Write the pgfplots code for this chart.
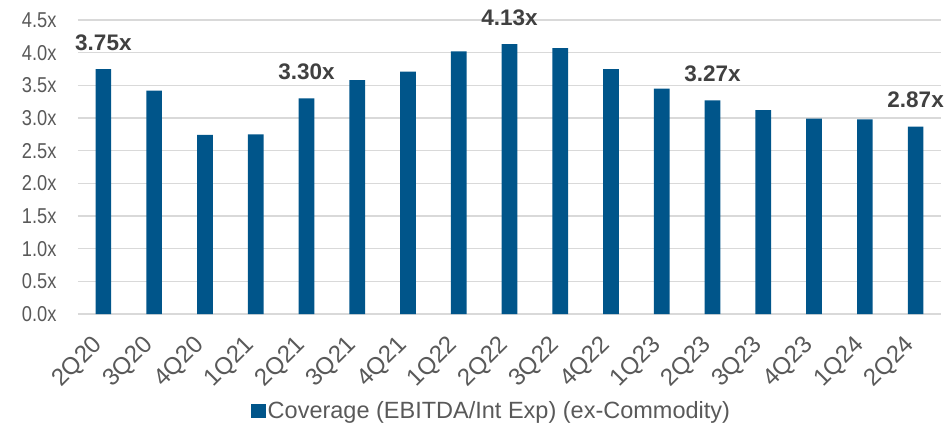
\documentclass[border=0pt]{standalone}
\usepackage{pgfplots}
\pgfplotsset{compat=1.18}
\usepackage{fontspec}
\setmainfont{Liberation Sans}
\newfontfamily\narrowfont{Liberation Sans}[FakeStretch=0.85]
\definecolor{barblue}{HTML}{00558A}
\definecolor{tickgrey}{HTML}{595959}
\definecolor{labgrey}{HTML}{404040}
\definecolor{gridgrey}{HTML}{D9D9D9}
\begin{document}
\begin{tikzpicture}
\begin{axis}[
  at={(0,0)}, anchor=south west,
  scale only axis, width=863pt, height=294pt,
  xmin=-0.5, xmax=16.5, ymin=0, ymax=4.5,
  clip=false,
  axis line style={draw=none},
  tick style={draw=none},
  xtick=\empty,
  ytick={0,0.5,...,4.5},
  ymajorgrids,
  grid style={gridgrey, line width=1.5pt},
  /pgf/number format/assume math mode=true,
  yticklabel={\pgfmathprintnumber[fixed,fixed zerofill,precision=1]{\tick}x},
  yticklabel style={font=\narrowfont\fontsize{21.5}{22}\selectfont, text=tickgrey, xshift=-18pt},
  legend style={at={(0.479,-0.33)}, anchor=center, draw=none, fill=none,
    font=\fontsize{23.5}{24}\selectfont, text=tickgrey, inner sep=0pt},
  legend image code/.code={\fill[barblue] (0pt,-7pt) rectangle (15pt,7pt);},
]
\addplot[ybar, bar width=15.7pt, fill=barblue, draw=none] coordinates {
 (0,3.75) (1,3.42) (2,2.74) (3,2.75) (4,3.30) (5,3.58) (6,3.71) (7,4.02)
 (8,4.13) (9,4.07) (10,3.75) (11,3.45) (12,3.27) (13,3.12) (14,2.99) (15,2.98) (16,2.87)};
\addlegendentry{Coverage (EBITDA/Int Exp) (ex-Commodity)}
\addplot[draw=none, mark=none, forget plot,
  nodes near coords={\pgfmathprintnumber[fixed,fixed zerofill,precision=2]{\pgfplotspointmeta}x},
  nodes near coords style={font=\bfseries\fontsize{22.5}{24}\selectfont, text=labgrey, anchor=south, inner sep=0pt, yshift=18.5pt}]
 coordinates {(0,3.75) (4,3.30) (8,4.13) (12,3.27) (16,2.87)};
% category labels under the bars
\addplot[draw=none, mark=none, forget plot, point meta=explicit symbolic,
  nodes near coords,
  nodes near coords style={font=\fontsize{24}{24}\selectfont, text=tickgrey,
    yshift=-27.5pt, xshift=-4.5pt, rotate=45, anchor=east, inner sep=0pt}]
 table[x=x, y=y, meta=lab] {
x y lab
0 0 2Q20
1 0 3Q20
2 0 4Q20
3 0 1Q21
4 0 2Q21
5 0 3Q21
6 0 4Q21
7 0 1Q22
8 0 2Q22
9 0 3Q22
10 0 4Q22
11 0 1Q23
12 0 2Q23
13 0 3Q23
14 0 4Q23
15 0 1Q24
16 0 2Q24
};
\end{axis}
\pgfresetboundingbox
\path[use as bounding box] (-78pt,-110pt) rectangle (867pt,314pt);
\end{tikzpicture}
\end{document}
